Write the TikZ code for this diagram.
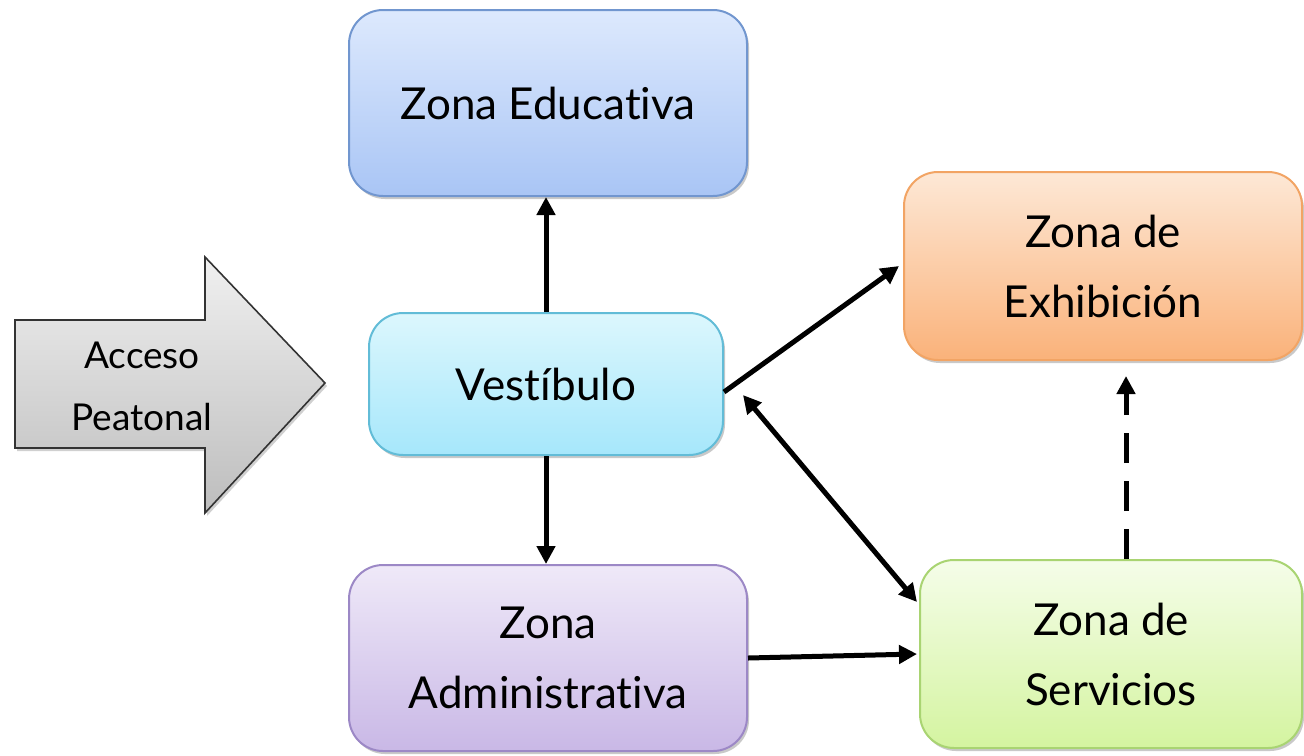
\documentclass[tikz,border=0pt]{standalone}
\usepackage{fontspec}
\setmainfont[Ligatures={NoCommon,NoRequired,NoContextual}]{Lato}
\usetikzlibrary{arrows.meta,shadows,calc}
\definecolor{eduT}{HTML}{DDE9FD}\definecolor{eduB}{HTML}{A9C5F5}\definecolor{eduD}{HTML}{7196CF}
\definecolor{vesT}{HTML}{DCF7FD}\definecolor{vesB}{HTML}{A6E7FB}\definecolor{vesD}{HTML}{62BCD7}
\definecolor{exhT}{HTML}{FDE8D6}\definecolor{exhB}{HTML}{FAB27A}\definecolor{exhD}{HTML}{F2A464}
\definecolor{admT}{HTML}{EFE9F8}\definecolor{admB}{HTML}{C9B8E6}\definecolor{admD}{HTML}{9C88C6}
\definecolor{serT}{HTML}{F5FDE9}\definecolor{serB}{HTML}{D4F4A0}\definecolor{serD}{HTML}{A9D472}
\definecolor{grT}{HTML}{F0F0F0}\definecolor{grB}{HTML}{BDBDBD}
\begin{document}
\begin{tikzpicture}[x=0.5pt,y=-0.5pt,
  zone/.style={rectangle,rounded corners=17pt,inner sep=0pt,line width=1pt,
    align=center,font=\fontsize{22}{35}\selectfont,
    drop shadow={shadow xshift=1pt,shadow yshift=-1.5pt,opacity=0.35,fill=black!60}},
  conn/.style={line width=2.5pt,-{Triangle[length=9pt,width=9pt]}},
  dconn/.style={line width=2.5pt,{Triangle[length=9pt,width=9pt]}-{Triangle[length=9pt,width=9pt]}}]
\useasboundingbox (0,0) rectangle (1304,755);
\fill[white] (0,0) rectangle (1304,755);
% entrance arrow
\draw[line width=0.8pt,draw=black!80,top color=grT,bottom color=grB,
  drop shadow={shadow xshift=1pt,shadow yshift=-1.5pt,opacity=0.3,fill=black!60}]
  (15,320) -- (205,320) -- (205,257) -- (325,383) -- (205,513) -- (205,448) -- (15,448) -- cycle;
\node[align=center,font=\fontsize{18.5}{31}\selectfont] (acc) at (142,386) {Acceso\\Peatonal};
% zones
\node[zone,draw=eduD,top color=eduT,bottom color=eduB,minimum width=199pt,minimum height=93pt] (edu) at (548,103) {Zona Educativa};
\node[zone,draw=vesD,top color=vesT,bottom color=vesB,minimum width=177pt,minimum height=71pt] (ves) at (546,384) {Vestíbulo};
\node[zone,draw=exhD,top color=exhT,bottom color=exhB,minimum width=199pt,minimum height=94pt] (exh) at (1103,266) {Zona de\\Exhibición};
\node[zone,draw=admD,top color=admT,bottom color=admB,minimum width=199pt,minimum height=93pt] (adm) at (548,658) {Zona\\Administrativa};
\node[zone,draw=serD,top color=serT,bottom color=serB,minimum width=191pt,minimum height=94pt] (ser) at (1111,654) {Zona de\\Servicios};
% connectors
\draw[conn] (ves.north) -- (ves.north |- edu.south);
\draw[conn] (ves.south) -- (ves.south |- adm.north);
\draw[conn] ([yshift=-4pt]ves.east) -- ([xshift=-2pt]exh.west);
\draw[dconn] ([xshift=9.5pt,yshift=-5.5pt]ves.east) -- ([xshift=-1pt,yshift=-21.5pt]ser.north west);
\draw[conn] (adm.east) -- ([xshift=-1pt]ser.west);
\draw[conn,dash pattern=on 15pt off 9pt,shorten >=7.5pt] ([xshift=7.5pt]ser.north) -- ([xshift=7.5pt]ser.north |- exh.south);
\end{tikzpicture}
\end{document}
